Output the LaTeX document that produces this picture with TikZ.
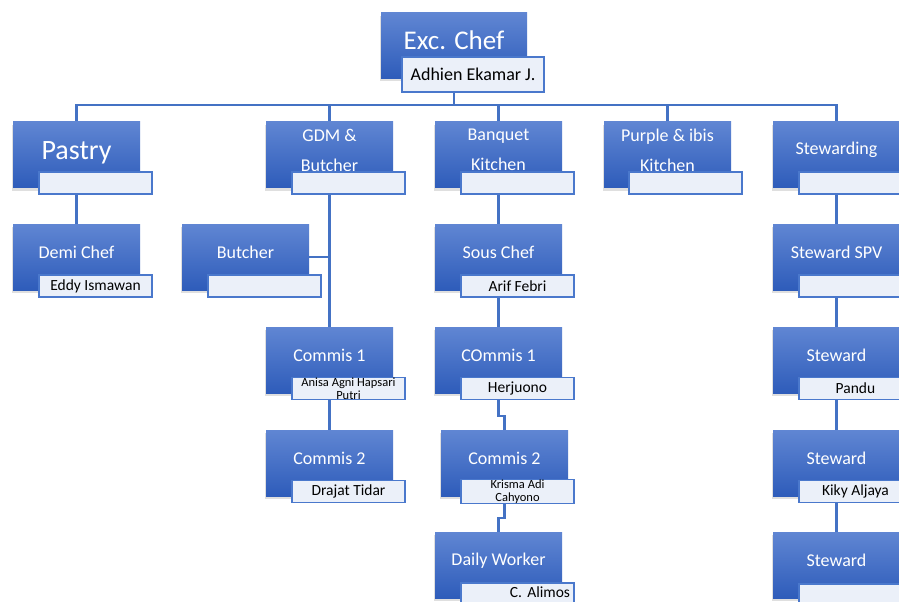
\documentclass[tikz,border=0pt]{standalone}
\usepackage{fontspec}
\setmainfont{Carlito}
\usetikzlibrary{shadows,backgrounds}
\definecolor{lineblue}{RGB}{68,114,196}
\definecolor{boxtop}{RGB}{96,134,211}
\definecolor{boxbot}{RGB}{46,92,186}
\definecolor{labfill}{RGB}{235,240,249}
\definecolor{labdraw}{RGB}{74,120,204}
\begin{document}
\begin{tikzpicture}[x=1pt,y=-1pt,
 rolebox/.style={rectangle, minimum width=127pt, minimum height=66pt, inner sep=0pt,
   top color=boxtop, bottom color=boxbot, draw=none,
   drop shadow={shadow xshift=-1pt,shadow yshift=-3pt,opacity=0.25}},
 titletext/.style={text=white, font=\fontsize{18}{30}\selectfont, align=center, inner sep=0pt, yshift=4.5pt},
 namebox/.style={rectangle, minimum width=113pt, minimum height=22pt, inner sep=0pt,
   draw=labdraw, line width=1.1pt, fill=labfill,
   font=\fontsize{15.5}{16}\selectfont},
 smallname/.style={font=\fontsize{12.5}{13.5}\selectfont, align=center},
 conn/.style={draw=lineblue, line width=2.2pt}]
\useasboundingbox (0,0) rectangle (899,602);
\clip (0,0) rectangle (899,602);

% top
\node[rolebox, minimum width=146pt, minimum height=65pt,
  label={[titletext,font=\fontsize{27}{30}\selectfont,yshift=1pt]center:Exc. Chef}] (exc) at (454,45.5) {};
\node[namebox, minimum width=142pt, minimum height=35pt, font=\fontsize{18}{20}\selectfont] (excN) at (473,74.5) {Adhien Ekamar J.};

% level 1
\node[rolebox, label={[titletext,font=\fontsize{28}{30}\selectfont,yshift=-3pt]center:Pastry}] (pastry) at (76.5,154.5) {};
\node[namebox] (pastryN) at (95.5,183) {};
\node[rolebox, label={[titletext]center:{GDM \&\\Butcher}}] (gdm) at (329.5,154.5) {};
\node[namebox] (gdmN) at (348.5,183) {};
\node[rolebox, label={[titletext]center:{Banquet\\Kitchen}}] (banq) at (498.5,154.5) {};
\node[namebox] (banqN) at (517.5,183) {};
\node[rolebox, label={[titletext]center:{Purple \& ibis\\Kitchen}}] (purp) at (667.5,154.5) {};
\node[namebox] (purpN) at (685.5,183) {};
\node[rolebox, label={[titletext]center:Stewarding}] (stew) at (836.5,154.5) {};
\node[namebox] (stewN) at (855.5,183) {};

% level 2
\node[rolebox, label={[titletext]center:Demi Chef}] (demi) at (76.5,257) {};
\node[namebox] (demiN) at (95.5,286) {Eddy Ismawan};
\node[rolebox, label={[titletext]center:Butcher}] (butch) at (245.5,257) {};
\node[namebox] (butchN) at (264.5,286) {};
\node[rolebox, label={[titletext]center:Sous Chef}] (sous) at (498.5,257) {};
\node[namebox] (sousN) at (517.5,286) {Arif Febri};
\node[rolebox, label={[titletext]center:Steward SPV}] (spv) at (836.5,257) {};
\node[namebox] (spvN) at (855.5,286) {};

% level 3
\node[rolebox, label={[titletext]center:Commis 1}] (gc1) at (329.5,360) {};
\node[namebox, smallname] (gc1N) at (348.5,388.5) {Anisa Agni Hapsari\\Putri};
\node[rolebox, label={[titletext]center:COmmis 1}] (bc1) at (498.5,360) {};
\node[namebox] (bc1N) at (517.5,388.5) {Herjuono};
\node[rolebox, label={[titletext]center:Steward}] (st1) at (836.5,360) {};
\node[namebox] (st1N) at (855.5,388.5) {Pandu};

% level 4
\node[rolebox, label={[titletext]center:Commis 2}] (gc2) at (329.5,463) {};
\node[namebox] (gc2N) at (348.5,491.5) {Drajat Tidar};
\node[rolebox, label={[titletext]center:Commis 2}] (bc2) at (504.5,463) {};
\node[namebox, smallname] (bc2N) at (517.5,491.5) {Krisma Adi\\Cahyono};
\node[rolebox, label={[titletext]center:Steward}] (st2) at (836.5,463) {};
\node[namebox] (st2N) at (855.5,491.5) {Kiky Aljaya};

% level 5
\node[rolebox, label={[titletext]center:Daily Worker}] (daily) at (498.5,565) {};
\node[namebox, text width=105pt, align=right, text depth=4pt] (dailyN) at (517.5,594) {C. Alimos};
\node[rolebox, label={[titletext]center:Steward}] (st3) at (836.5,565) {};
\node[namebox] (st3N) at (855.5,595) {};

\coordinate (bus) at (454,105);
\coordinate (j1) at (498.5,416);
\coordinate (j2) at (498.5,518);

\begin{pgfonlayer}{background}
\fill[white] (0,0) rectangle (899,602);
\draw[conn] (exc.center) -- (bus);
\draw[conn] (pastry.center) |- (bus) -| (stew.center);
\draw[conn] (gdm.center) -- (gdm.center |- bus);
\draw[conn] (banq.center) -- (banq.center |- bus);
\draw[conn] (purp.center) -- (purp.center |- bus);
\draw[conn] (pastry.center) -- (demi.center);
\draw[conn] (gdm.center) -- (gc1.center) -- (gc2.center);
\draw[conn] (butch.center) -- (butch.center -| gdm.center);
\draw[conn] (banq.center) -- (sous.center) -- (bc1.center) |- (j1) -| (bc2.center);
\draw[conn] (bc2.center) |- (j2) -- (daily.center);
\draw[conn] (stew.center) -- (spv.center) -- (st1.center) -- (st2.center) -- (st3.center);
\end{pgfonlayer}
\end{tikzpicture}
\end{document}
